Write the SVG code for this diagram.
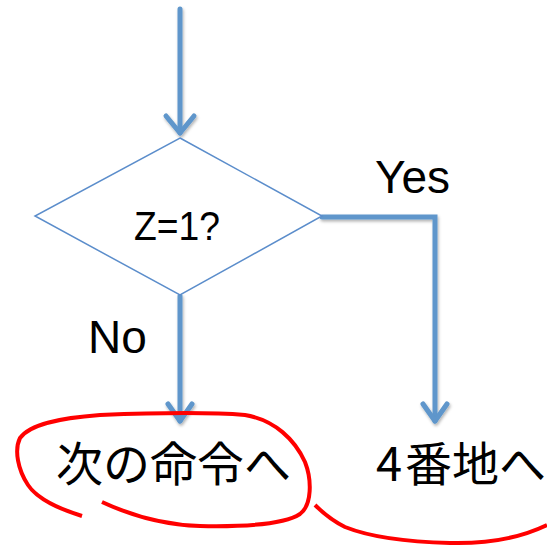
<svg xmlns="http://www.w3.org/2000/svg" width="547" height="547" viewBox="0 0 547 547">
<defs>
<filter id="sh" x="-50%" y="-10%" width="200%" height="120%">
<feDropShadow dx="1" dy="2" stdDeviation="1.5" flood-color="#000" flood-opacity="0.3"/>
</filter>
</defs>
<style>
.conn{fill:none;stroke:#5E96CB;stroke-width:5;stroke-linecap:round;stroke-linejoin:miter}
.head{fill:none;stroke:#5E96CB;stroke-width:5;stroke-linecap:round;stroke-linejoin:round}
.lbl{font-family:"Liberation Sans",Arial,sans-serif;fill:#000}
.jp{font-family:"Noto Sans CJK JP","Noto Sans CJK SC",sans-serif;font-size:47px;fill:#000}
.red{fill:none;stroke:#FF0000;stroke-width:4;stroke-linecap:butt;stroke-linejoin:round}
</style>
<g id="connectors" filter="url(#sh)">
<path class="conn" d="M180,9 V133"/>
<path class="head" d="M166,116 L180,133 L194,116"/>
<path class="conn" d="M180,296 V421"/>
<path class="head" d="M168,404 L180,421 L192,404"/>
<path class="conn" d="M322,217 H435 V421"/>
<path class="head" d="M423,404 L435,421 L447,404"/>
</g>
<g id="decision">
<polygon points="180,138 322,216 180,295 35,216" fill="#fff" stroke="#5B8DCB" stroke-width="1.5"/>
<text class="lbl" x="177" y="240" font-size="40" text-anchor="middle" textLength="86" lengthAdjust="spacingAndGlyphs">Z=1?</text>
</g>
<g id="label-yes"><text class="lbl" x="375" y="193" font-size="46">Yes</text></g>
<g id="label-no"><text class="lbl" x="88" y="353" font-size="46">No</text></g>
<g id="next"><text class="jp" x="56" y="481">次の命令へ</text></g>
<g id="addr4"><text class="jp" y="481"><tspan x="376">4</tspan><tspan x="405">番地へ</tspan></text></g>
<g id="annotations">
<path class="red" d="M82,516 C60,509 38,500 28,485 C18,470 14,450 20,438 C30,424 60,418 100,415 C150,413 210,412 245,415 C275,420 295,440 305,462 C312,480 312,505 300,514 C285,524 250,527 200,526 C165,525 130,515 102,502"/>
<path class="red" d="M315,505 C325,515 335,522 345,527 C370,537 410,542 450,543 C490,544 520,538 547,525"/>
</g>
</svg>
